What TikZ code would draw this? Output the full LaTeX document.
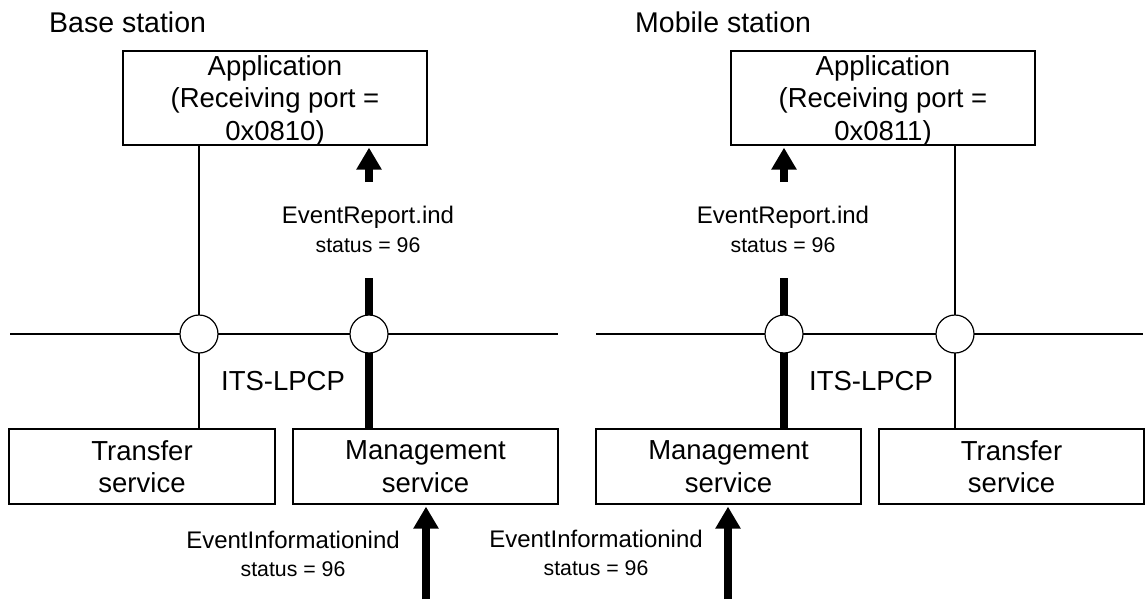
\documentclass[tikz,border=0pt]{standalone}
\usepackage{fontspec}
\setmainfont{Liberation Sans}
\usetikzlibrary{arrows.meta,backgrounds}
\newcommand{\nodepth}[1]{\raisebox{0pt}[\height][0pt]{#1}}
\begin{document}
\begin{tikzpicture}[x=1pt,y=-1pt,
  box/.style={draw,line width=1.2pt,inner sep=0pt,align=center,font=\fontsize{27.5}{32.5}\selectfont},
  port/.style={circle,draw,fill=white,line width=1.2pt,minimum size=38pt,inner sep=0pt},
  thinline/.style={line width=1.1pt},
  thickline/.style={line width=8pt},
  bigarrow/.style={line width=8pt,-{Triangle[width=24pt,length=22pt]},shorten >=2pt},
  title/.style={inner sep=0pt,anchor=base west,font=\fontsize{28.5}{32}\selectfont},
  lbl/.style={inner sep=0pt,font=\fontsize{24}{28}\selectfont},
  st/.style={inner sep=0pt,font=\fontsize{21.3}{25}\selectfont},
  its/.style={inner sep=0pt,font=\fontsize{27.5}{32}\selectfont}]
\useasboundingbox (0,0) rectangle (1145,602);

% titles
\node[title] (bs) at (49,33) {Base station};
\node[title] (ms) at (635,33) {Mobile station};

% boxes
\node[box,minimum width=304pt,minimum height=94pt] (appL) at (275,98) {Application\\(Receiving port =\\\nodepth{0x0810)}};
\node[box,minimum width=304pt,minimum height=94pt] (appR) at (883,98) {Application\\(Receiving port =\\\nodepth{0x0811)}};
\node[box,minimum width=266pt,minimum height=75pt] (trL) at (142,466.5) {Transfer\\service};
\node[box,minimum width=265pt,minimum height=75pt] (mgL) at (425.5,466.5) {Management\\service};
\node[box,minimum width=265pt,minimum height=75pt] (mgR) at (728.5,466.5) {Management\\service};
\node[box,minimum width=265pt,minimum height=75pt] (trR) at (1011.5,466.5) {Transfer\\service};

% ports
\node[port] (c1) at (199,334) {};
\node[port] (c2) at (369,334) {};
\node[port] (c3) at (784,334) {};
\node[port] (c4) at (955,334) {};

% free ends
\coordinate (hlL1) at (10,334);
\coordinate (hlL2) at (558,334);
\coordinate (hlR1) at (596,334);
\coordinate (hlR2) at (1143,334);
\coordinate (thL) at (369,278);
\coordinate (thR) at (784,278);
\coordinate (erL) at (369,182);
\coordinate (erR) at (784,182);
\coordinate (eiL) at (426,599);
\coordinate (eiR) at (728,599);

\begin{scope}[on background layer]
\draw[thinline] (hlL1) -- (hlL2);
\draw[thinline] (hlR1) -- (hlR2);
\draw[thinline] (c1 |- appL.south) -- (c1 |- trL.north);
\draw[thinline] (c4 |- appR.south) -- (c4 |- trR.north);
\draw[thickline] (thL) -- (c2 |- mgL.north);
\draw[thickline] (thR) -- (c3 |- mgR.north);
\end{scope}

% arrows
\draw[bigarrow] (erL) -- (erL |- appL.south);
\draw[bigarrow] (erR) -- (erR |- appR.south);
\draw[bigarrow] (eiL) -- (eiL |- mgL.south);
\draw[bigarrow] (eiR) -- (eiR |- mgR.south);

% labels
\node[lbl] (erLt) at (368,217) {EventReport.ind};
\node[st] (erLs) at (368,245) {status = 96};
\node[lbl] (erRt) at (783,217) {EventReport.ind};
\node[st] (erRs) at (783,245) {status = 96};
\node[its] (itsL) at (283,381) {ITS-LPCP};
\node[its] (itsR) at (871,381) {ITS-LPCP};
\node[lbl] (eiLt) at (293,540) {EventInformationind};
\node[st] (eiLs) at (293,569) {status = 96};
\node[lbl] (eiRt) at (596,539) {EventInformationind};
\node[st] (eiRs) at (596,568) {status = 96};
\end{tikzpicture}
\end{document}
